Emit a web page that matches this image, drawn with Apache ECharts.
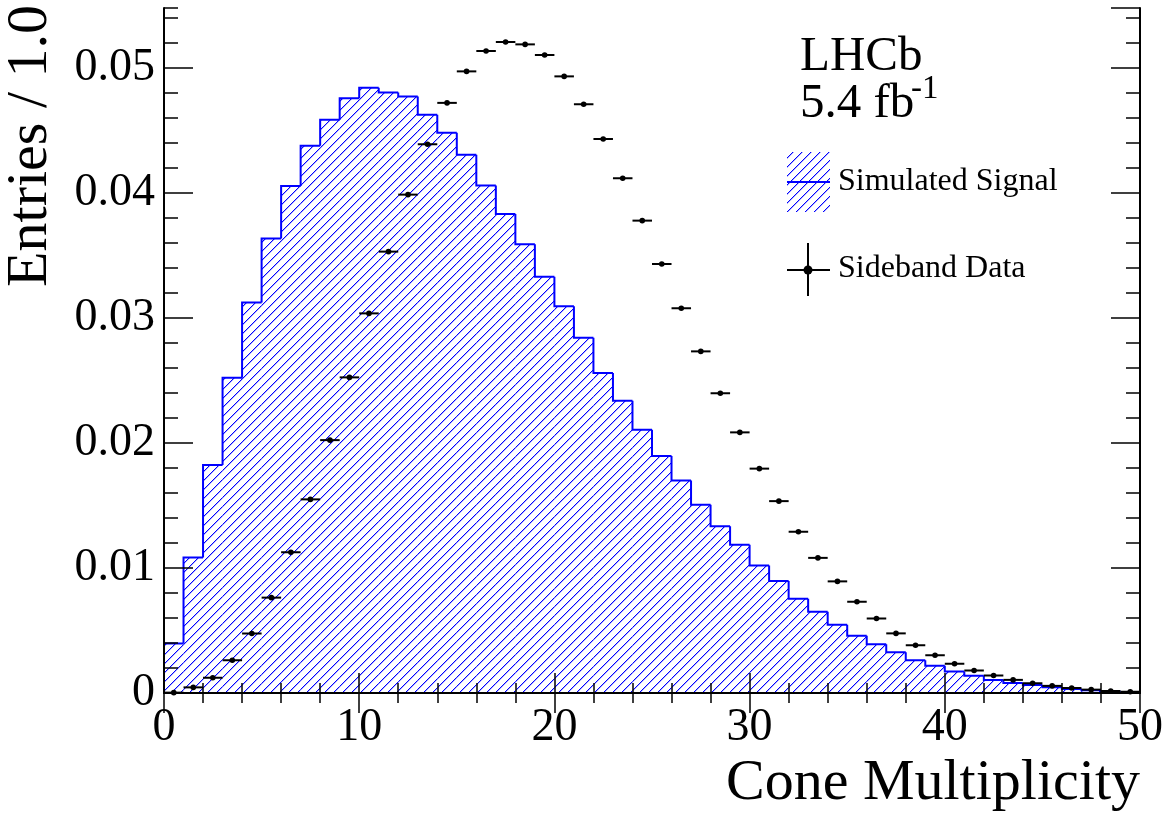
<!DOCTYPE html>
<html>
<head>
<meta charset="utf-8">
<script src="https://cdn.jsdelivr.net/npm/echarts@6/dist/echarts.min.js"></script>
<style>
html,body{margin:0;padding:0;background:#fff;}
#c{width:1173px;height:819px;}
</style>
</head>
<body>
<div id="c"></div>
<script>
// ---- data ----
const binEdges = [0,1,2,3,4,5,6,7,8,9,10,11,12,13,14,15,16,17,18,19,20,21,22,23,24,25,26,27,28,29,30,31,32,33,34,35,36,37,38,39,40,41,42,43,44,45,46,47,48,49,50];
const binCenters = [0.5,1.5,2.5,3.5,4.5,5.5,6.5,7.5,8.5,9.5,10.5,11.5,12.5,13.5,14.5,15.5,16.5,17.5,18.5,19.5,20.5,21.5,22.5,23.5,24.5,25.5,26.5,27.5,28.5,29.5,30.5,31.5,32.5,33.5,34.5,35.5,36.5,37.5,38.5,39.5,40.5,41.5,42.5,43.5,44.5,45.5,46.5,47.5,48.5,49.5];
const simulatedSignal = [0.00397,0.01085,0.01824,0.02522,0.03125,0.03637,0.04057,0.04379,0.04587,0.04758,
  0.04843,0.04805,0.04772,0.04627,0.04483,0.04306,0.0406,0.03833,0.0359,0.0333,
  0.03094,0.02842,0.02561,0.02339,0.02106,0.01896,0.01701,0.01506,0.01334,0.01186,
  0.0102,0.00896,0.00755,0.0065,0.00547,0.00458,0.00391,0.00326,0.00262,0.00218,
  0.00173,0.00138,0.00105,0.00081,0.00065,0.00046,0.00032,0.00022,0.00011,0.00007];
const sidebandData = [0.00003,0.00045,0.00122,0.00262,0.00476,0.00763,0.01126,0.01549,0.02023,0.02525,
  0.03037,0.03531,0.03987,0.0439,0.04721,0.04973,0.05136,0.05208,0.05189,0.05104,
  0.04933,0.0471,0.04432,0.04118,0.03779,0.03432,0.03078,0.02733,0.02398,0.02085,
  0.01795,0.01535,0.0129,0.01081,0.00893,0.0073,0.00596,0.00477,0.00382,0.00302,
  0.00234,0.0018,0.0014,0.00105,0.00078,0.00057,0.0004,0.00027,0.00016,0.0001];
const xTickLabels = ['0','10','20','30','40','50'];
const yTickLabels = ['0','0.01','0.02','0.03','0.04','0.05'];

// ---- styling ----
const FONT = 'Liberation Serif';
const BLUE = '#0000ff';

function makeHatch() {
  const P = 9;
  const c = document.createElement('canvas');
  c.width = P; c.height = P;
  const g = c.getContext('2d');
  for (let i = 0; i < P; i++) {
    g.fillStyle = BLUE;
    g.fillRect(i, P - 1 - i, 1, 1);
    g.fillStyle = 'rgba(0,0,255,0.3)';
    g.fillRect((i + 1) % P, P - 1 - i, 1, 1);
  }
  return c;
}
const hatch = { image: makeHatch(), repeat: 'repeat' };

const chart = echarts.init(document.getElementById('c'), null, { renderer: 'canvas' });

const Y_MAX = 0.0548;
function yFmt(v) {
  const k = Math.round(v * 100);
  if (Math.abs(v * 100 - k) > 1e-6) return '';
  return yTickLabels[k] !== undefined ? yTickLabels[k] : '';
}
function xFmt(v) {
  const k = Math.round(v / 10);
  return xTickLabels[k] !== undefined ? xTickLabels[k] : '';
}

const frameLine = { show: true, lineStyle: { color: '#000', width: 2 } };
const tickStyle = { color: '#000', width: 1.5 };

function xAxisDef(pos, showLabel) {
  return {
    type: 'value', position: pos, min: 0, max: 50, interval: 10, z: 10,
    axisLine: frameLine,
    axisTick: { show: true, inside: true, length: 20, lineStyle: tickStyle },
    minorTick: { show: true, splitNumber: 5, length: 10, lineStyle: tickStyle },
    axisLabel: { show: showLabel, formatter: xFmt, fontFamily: FONT, fontSize: 46, color: '#000', margin: 12 },
    splitLine: { show: false }, minorSplitLine: { show: false }
  };
}
function yMajor(pos, showLabel) {
  return {
    type: 'value', position: pos, min: 0, max: Y_MAX, interval: 0.01, z: 10,
    axisLine: frameLine,
    axisTick: { show: true, inside: true, length: 29, lineStyle: tickStyle },
    axisLabel: { show: showLabel, formatter: yFmt, fontFamily: FONT, fontSize: 46, color: '#000', margin: 9,
      showMaxLabel: false },
    splitLine: { show: false }
  };
}
function yMinor(pos) {
  return {
    type: 'value', position: pos, min: 0, max: Y_MAX, interval: 0.002, z: 10,
    axisLine: { show: false },
    axisTick: { show: true, inside: true, length: 14, lineStyle: tickStyle },
    axisLabel: { show: false },
    splitLine: { show: false }
  };
}

const histData = simulatedSignal.map((v, i) => [binEdges[i], binEdges[i + 1], v, i > 0 ? simulatedSignal[i - 1] : 0]);
const pointData = sidebandData.map((v, i) => [binCenters[i], v, binEdges[i], binEdges[i + 1]]);

const option = {
  backgroundColor: '#fff',
  animation: false,
  grid: { left: 164, right: 33, top: 8, bottom: 126, containLabel: false },
  xAxis: [xAxisDef('bottom', true), xAxisDef('top', false)],
  yAxis: [yMajor('left', true), yMinor('left'), yMajor('right', false), yMinor('right')],
  series: [
    {
      name: 'Simulated Signal', type: 'custom', xAxisIndex: 0, yAxisIndex: 0, z: 2,
      renderItem: function (params, api) {
        const x0 = api.value(0), x1 = api.value(1), v = api.value(2), vp = api.value(3);
        const pb = api.coord([x0, 0]);
        const pt = api.coord([x1, v]);
        const pp = api.coord([x0, vp]);
        return {
          type: 'group',
          children: [
            { type: 'rect', shape: { x: pb[0], y: pt[1], width: pt[0] - pb[0], height: pb[1] - pt[1] },
              style: { fill: hatch } },
            { type: 'polyline', shape: { points: [[pp[0], pp[1]], [pb[0], pt[1]], [pt[0], pt[1]]] },
              style: { stroke: BLUE, lineWidth: 2, fill: null } }
          ]
        };
      },
      data: histData
    },
    {
      name: 'Sideband Data', type: 'custom', xAxisIndex: 0, yAxisIndex: 0, z: 3,
      renderItem: function (params, api) {
        const x = api.value(0), v = api.value(1), lo = api.value(2), hi = api.value(3);
        const c = api.coord([x, v]);
        const l = api.coord([lo, v]);
        const r = api.coord([hi, v]);
        return {
          type: 'group',
          children: [
            { type: 'line', shape: { x1: l[0], y1: l[1], x2: r[0], y2: r[1] }, style: { stroke: '#000', lineWidth: 2 } },
            { type: 'circle', shape: { cx: c[0], cy: c[1], r: 2.8 }, style: { fill: '#000' } }
          ]
        };
      },
      data: pointData
    }
  ],
  graphic: [
    // axis titles
    { type: 'text', z: 20, style: { text: 'Cone Multiplicity', x: 1140, y: 784, textAlign: 'right', textVerticalAlign: 'middle',
      font: '58px "Liberation Serif"', fill: '#000' } },
    { type: 'text', z: 20, x: 31, y: 5, rotation: Math.PI / 2,
      style: { text: 'Entries / 1.0', x: 0, y: 0, textAlign: 'right', textVerticalAlign: 'middle',
      font: '58px "Liberation Serif"', fill: '#000' } },
    // LHCb label
    { type: 'text', z: 20, style: { text: 'LHCb', x: 800, y: 57.5, textAlign: 'left', textVerticalAlign: 'middle',
      font: '49px "Liberation Serif"', fill: '#000' } },
    { type: 'text', z: 20, style: { text: '5.4 fb', x: 800, y: 104.5, textAlign: 'left', textVerticalAlign: 'middle',
      font: '49px "Liberation Serif"', fill: '#000' } },
    { type: 'text', z: 20, style: { text: '-1', x: 911, y: 89, textAlign: 'left', textVerticalAlign: 'middle',
      font: '33px "Liberation Serif"', fill: '#000' } },
    // legend: simulated signal
    { type: 'rect', z: 20, shape: { x: 787, y: 152, width: 43, height: 60 }, style: { fill: hatch } },
    { type: 'line', z: 21, shape: { x1: 787, y1: 182, x2: 830, y2: 182 }, style: { stroke: BLUE, lineWidth: 2 } },
    { type: 'text', z: 20, style: { text: 'Simulated Signal', x: 838, y: 181.5, textAlign: 'left', textVerticalAlign: 'middle',
      font: '32px "Liberation Serif"', fill: '#000' } },
    // legend: sideband data
    { type: 'line', z: 21, shape: { x1: 787, y1: 270, x2: 830, y2: 270 }, style: { stroke: '#000', lineWidth: 2 } },
    { type: 'line', z: 21, shape: { x1: 808, y1: 243, x2: 808, y2: 296 }, style: { stroke: '#000', lineWidth: 2 } },
    { type: 'circle', z: 22, shape: { cx: 808, cy: 270, r: 4.5 }, style: { fill: '#000' } },
    { type: 'text', z: 20, style: { text: 'Sideband Data', x: 838, y: 269, textAlign: 'left', textVerticalAlign: 'middle',
      font: '32px "Liberation Serif"', fill: '#000' } }
  ]
};
chart.setOption(option);
</script>
</body>
</html>
